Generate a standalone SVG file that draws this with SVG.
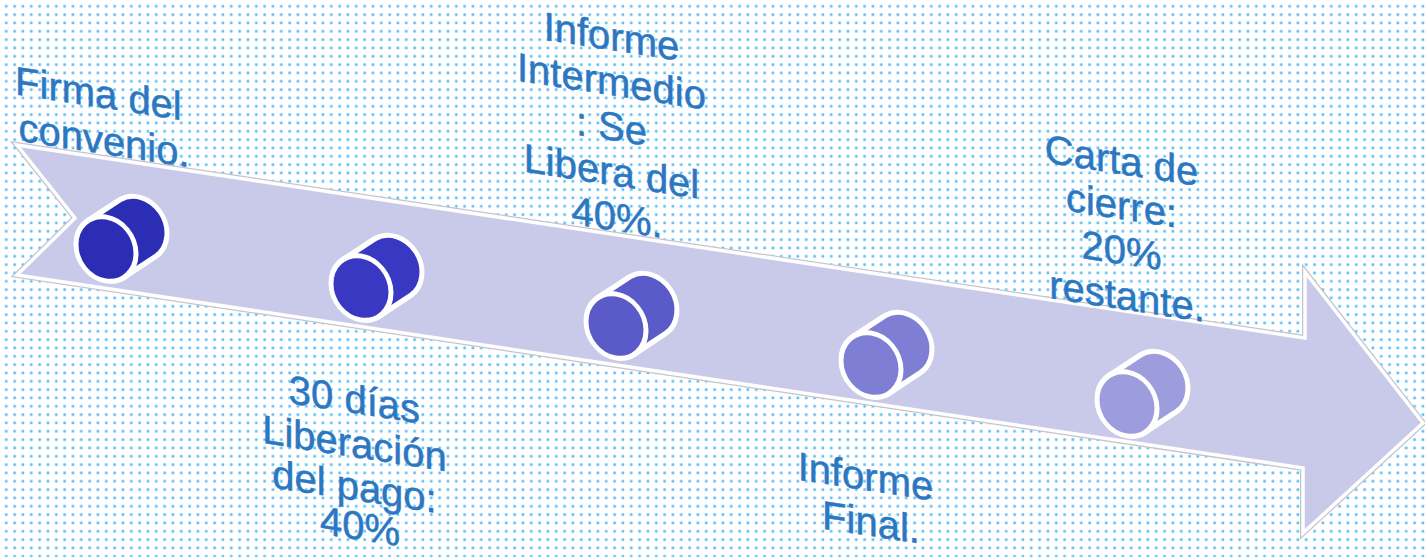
<svg xmlns="http://www.w3.org/2000/svg" width="1425" height="557" viewBox="0 0 1425 557">
  <defs>
    <pattern id="dots" patternUnits="userSpaceOnUse" x="0" y="0" width="8.333" height="8.333">
      <rect x="5" y="5" width="2.6" height="2.6" fill="#5abef6"/>
    </pattern>
    <path id="cylBody" d="M 18.2 25.4 L 50.2 -0.6 A 30 32 0 0 0 13.8 -51.4 L -18.2 -25.4 A 30 32 0 0 0 18.2 25.4 Z"/>
  </defs>
  <style>
    .lbl { font-family: "Liberation Sans", Arial, sans-serif; font-size: 40px; fill: #2b77c1; stroke: #2b77c1; stroke-width: 0.5; text-anchor: middle; }
    .cyl { stroke: #ffffff; stroke-width: 5; stroke-linejoin: round; }
    .arrowOuter { fill: none; stroke: #c4c4cc; stroke-width: 6; stroke-linejoin: miter; }
    .arrowInner { fill: #c9c9ea; stroke: #ffffff; stroke-width: 3.5; stroke-linejoin: miter; }
  </style>

  <rect width="1425" height="557" fill="#ffffff"/>
  <rect width="1425" height="557" fill="url(#dots)"/>

  <g id="connectors">
    <polygon class="arrowOuter" points="17,145 1305,338 1305,272 1423,423 1303,533 1303,468 17,275 75,218"/>
    <polygon class="arrowInner" points="17,145 1305,338 1305,272 1423,423 1303,533 1303,468 17,275 75,218"/>
  </g>

  <g id="node-1">
    <g transform="translate(106,249) skewY(8.8)">
      <use href="#cylBody" class="cyl" fill="#2b2db4"/>
      <ellipse class="cyl" cx="0" cy="0" rx="30" ry="32" fill="#2b2db4"/>
    </g>
    <text class="lbl" transform="translate(104,108) skewY(8.8)">
      <tspan x="0" y="0">Firma del</tspan>
      <tspan x="0" y="46">convenio.</tspan>
    </text>
  </g>

  <g id="node-2">
    <g transform="translate(361,288) skewY(8.8)">
      <use href="#cylBody" class="cyl" fill="#3838c2"/>
      <ellipse class="cyl" cx="0" cy="0" rx="30" ry="32" fill="#3838c2"/>
    </g>
    <text class="lbl" transform="translate(360,414) skewY(8.8)">
      <tspan x="0" y="0">30 días</tspan>
      <tspan x="0" y="44">Liberación</tspan>
      <tspan x="0" y="87">del pago:</tspan>
      <tspan x="0" y="126">40%</tspan>
    </text>
  </g>

  <g id="node-3">
    <g transform="translate(616,326) skewY(8.8)">
      <use href="#cylBody" class="cyl" fill="#5a5ac8"/>
      <ellipse class="cyl" cx="0" cy="0" rx="30" ry="32" fill="#5a5ac8"/>
    </g>
    <text class="lbl" transform="translate(617,51) skewY(8.8)">
      <tspan x="0" y="0">Informe</tspan>
      <tspan x="0" y="45">Intermedio</tspan>
      <tspan x="0" y="90">: Se</tspan>
      <tspan x="0" y="135">Libera del</tspan>
      <tspan x="0" y="180">40%.</tspan>
    </text>
  </g>

  <g id="node-4">
    <g transform="translate(871,365) skewY(8.8)">
      <use href="#cylBody" class="cyl" fill="#7e7ed4"/>
      <ellipse class="cyl" cx="0" cy="0" rx="30" ry="32" fill="#7e7ed4"/>
    </g>
    <text class="lbl" transform="translate(871,491) skewY(8.8)">
      <tspan x="0" y="0">Informe</tspan>
      <tspan x="0" y="45">Final.</tspan>
    </text>
  </g>

  <g id="node-5">
    <g transform="translate(1127,404) skewY(8.8)">
      <use href="#cylBody" class="cyl" fill="#9d9ddd"/>
      <ellipse class="cyl" cx="0" cy="0" rx="30" ry="32" fill="#9d9ddd"/>
    </g>
    <text class="lbl" transform="translate(1127,175) skewY(8.8)">
      <tspan x="0" y="0">Carta de</tspan>
      <tspan x="0" y="45">cierre:</tspan>
      <tspan x="0" y="90">20%</tspan>
      <tspan x="0" y="135">restante.</tspan>
    </text>
  </g>
</svg>
